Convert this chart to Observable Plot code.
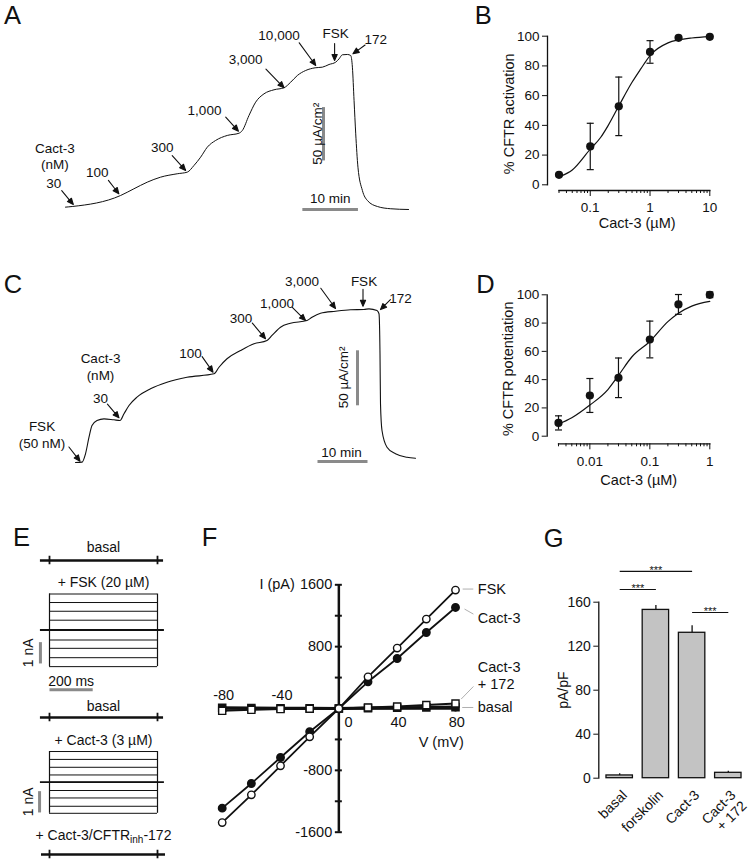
<!DOCTYPE html>
<html><head><meta charset="utf-8">
<script src="https://cdn.jsdelivr.net/npm/d3@7"></script>
<script src="https://cdn.jsdelivr.net/npm/@observablehq/plot@0.6"></script>
<style>
html,body{margin:0;padding:0;background:#fff;}
#root{position:relative;width:750px;height:865px;overflow:hidden;font-family:"Liberation Sans",Arial,Helvetica,sans-serif;color:#111;}
.letter{position:absolute;font-size:25.5px;line-height:1;}
</style></head><body><div id="root"></div>
<script>
// ================= DATA =================
// Panel A – Isc trace (time, min ; current, µA/cm²)
const traceA_t = [0,1.2,9.9,12.3,14.7,17.1,20.1,21.9,23.1,24.3,25.5,27.0,29.1,31.2,31.8,33.0,34.2,35.7,37.5,39.3,40.5,41.7,43.2,44.9,46.2,47.4,48.6,49.2,49.8,50.7,51.3,51.6,51.9,52.2,52.6,53.4,54.3,56.1,58.5,61.7];
const traceA_i = [2.2,2.8,13.1,19.4,25.6,30.3,33.5,35.0,41.2,49.0,58.4,64.7,69.4,71.5,74.0,88.1,100.6,108.4,112.2,114.1,119.3,125.6,130.3,132.8,133.4,135.9,138.1,141.2,145.0,145.3,144.3,133.4,102.0,70.9,39.6,17.8,8.4,2.8,0.7,0];
const labelsA = ["30","100","300","1,000","3,000","10,000","FSK","172"];
// Panel C – Isc trace
const traceC_t = [0,1.3,2.0,2.7,3.3,4.3,5.7,7.7,8.9,9.7,10.7,12.3,15.0,18.3,22.3,27.7,28.7,30.3,33.0,35.7,38.3,39.3,41.0,43.0,46.3,47.3,49.0,52.0,55.0,57.7,58.7,60.3,60.7,60.9,61.0,61.3,62.3,64.0,66.3,68.0];
const traceC_i = [0,0.3,7.9,23.0,33.6,38.2,39.7,38.8,38.2,44.3,51.8,59.4,67.0,73.0,77.5,80.6,86.6,94.3,101.8,107.9,110.9,115.5,123.0,126.6,129.1,132.1,135.7,137.5,138.8,139.1,139.7,138.2,135.2,98.8,53.4,29.1,13.9,7.9,4.8,3.9];
const labelsC = ["FSK\n(50 nM)","30","100","300","1,000","3,000","FSK","172"];
// Panel B – % CFTR activation
const concB = [0.03,0.1,0.3,1,3,10];
const meanB = [6.7,25.8,52.8,89.4,98.9,99.6];
const semB  = [0,15.6,19.7,7.6,0,0];
const fitB_x = [0.033,0.05,0.1,0.15,0.2,0.3,0.5,0.7,1,2,3,5,10];
const fitB_y = [6,10,24,32,40,53,69,78,87,95.5,97.5,98.8,99.7];
const majorB = [0.1,1,10];
const minorB = [0.03,0.04,0.05,0.06,0.07,0.08,0.09,0.2,0.3,0.4,0.5,0.6,0.7,0.8,0.9,2,3,4,5,6,7,8,9];
// Panel D – % CFTR potentiation
const concD = [0.003,0.01,0.03,0.1,0.3,1];
const meanD = [9.4,28.8,41.3,68.4,93.2,100];
const semD  = [5,12,14,13,7,2];
const fitD_x = [0.003,0.005,0.01,0.02,0.03,0.05,0.1,0.2,0.3,0.5,1];
const fitD_y = [8.5,13,22,33,43,56,67,81,87,92,95.3];
const majorD = [0.01,0.1,1];
const minorD = [0.003,0.004,0.005,0.006,0.007,0.008,0.009,0.02,0.03,0.04,0.05,0.06,0.07,0.08,0.09,0.2,0.3,0.4,0.5,0.6,0.7,0.8,0.9];
const pctTicks = [0,20,40,60,80,100];
// Panel E – whole-cell current families (nA), steps -80..+80 mV
const stepsE = [-80,-60,-40,-20,0,20,40,60,80];
const fskE   = [-1.72,-1.30,-0.86,-0.47,0,0.46,0.88,1.29,1.69];
const cactE  = [-1.46,-1.13,-0.74,-0.39,0,0.34,0.70,1.07,1.44];
const pulseE = [0,500];            // ms
const labelsE = ["basal","+ FSK (20 µM)","basal","+ Cact-3 (3 µM)","+ Cact-3/CFTRinh-172"];
// Panel F – I/V (pA vs mV)
const voltF  = [-80,-60,-40,-20,0,20,40,60,80];
const fskF   = [-1475,-1116,-741,-366,0,410,781,1157,1532];
const cactF  = [-1289,-970,-634,-301,0,345,647,983,1307];
const c172F  = [-30,-17,-8,-3,0,13,26,44,65];
const basalF = [10,7,4,2,0,5,10,14,18];
const yTicksF = [-1600,-1200,-800,-400,400,800,1200,1600];
const yLabelsF = [-1600,-800,800,1600];
const xTicksF = [-80,-40,40,80];
// Panel G – current density (pA/pF)
const catsG  = ["basal","forskolin","Cact-3","Cact-3 + 172"];
const namesG = ["basal","forskolin","Cact-3","Cact-3\n+ 172"];
const meanG  = [2.5,153,132.2,4.9];
const semG   = [1.5,4,6.3,1.5];
const yTicksG = [0,40,80,120,160];
const sigG = [{a:0,b:2,y:188,s:"***"},{a:0,b:1,y:171.5,s:"***"},{a:2,b:3,y:150.6,s:"***"}];

// ================= ANNOTATIONS (data units) =================
const arrowsA = [
  {t:1.4,I:4.7,len:18,ang:140,lt:-2.1,lI:24.6},
  {t:9.6,I:14.7,len:17,ang:142,lt:5.7,lI:34.4},
  {t:21.6,I:36.6,len:20,ang:138,lt:17.4,lI:57.5},
  {t:31.1,I:73.4,len:19,ang:138,lt:25.0,lI:92.8},
  {t:39.3,I:114.1,len:26,ang:136,lt:32.4,lI:140.3},
  {t:45.0,I:135.0,len:28,ang:144,lt:38.4,lI:163.1},
  {t:48.4,I:139.6,len:17,ang:180,lt:48.6,lI:164.7},
  {t:51.7,I:145.9,len:15,ang:234,lt:55.8,lI:159.0}
].map((d,i)=>({...d,label:labelsA[i]}));
const arrowsC = [
  {t:0.9,I:1.2,len:18,ang:142,lt:-6.7,lI:25.7},
  {t:8.7,I:40.6,len:18,ang:140,lt:5,lI:58.8},
  {t:27.5,I:82.1,len:19,ang:145,lt:23,lI:100.3},
  {t:38,I:112.5,len:20.5,ang:140,lt:33.1,lI:131.5},
  {t:46,I:129.1,len:19,ang:135,lt:40.3,lI:145.7},
  {t:52,I:140,len:25,ang:144,lt:45.3,lI:165.5},
  {t:57.5,I:142,len:17,ang:180,lt:57.7,lI:165.5},
  {t:61,I:139,len:14,ang:225,lt:65,lI:150.3}
].map((d,i)=>({...d,label:labelsC[i]}));

// ================= HELPERS =================
const W = 750, H = 865;
const FONT = '"Liberation Sans", Arial, Helvetica, sans-serif';
const INK = "#111";
const GRAYBAR = "#8a8a8a";
const root = document.getElementById("root");
function layer(o) {
  const svg = Plot.plot({
    width: W, height: H, marginTop: 0, marginRight: 0, marginBottom: 0, marginLeft: 0,
    ...o,
    x: {axis: null, label: null, ...(o.x || {})},
    y: {axis: null, label: null, ...(o.y || {})},
    length: {type: "identity"},
    style: {background: "none", fontFamily: FONT, fontSize: "13.5px", color: INK,
            position: "absolute", left: "0px", top: "0px", overflow: "visible", maxWidth: "none"}
  });
  root.appendChild(svg);
  return svg;
}
const arrowShape = {draw(ctx, l) {
  const h = 6, w = 2.6;
  ctx.moveTo(0, 0); ctx.lineTo(0, -l + h - 0.5);
  ctx.moveTo(0, -l); ctx.lineTo(-w, -l + h); ctx.lineTo(w, -l + h); ctx.closePath();
}};
const capSymbol = {draw(ctx, size) { const r = Math.sqrt(size / Math.PI); ctx.moveTo(-r, 0); ctx.lineTo(r, 0); }};
const zip = (xs, ys, kx, ky) => xs.map((x, i) => ({[kx]: x, [ky]: ys[i]}));

// ================= PANEL A =================
layer({
  x: {domain: [0, 60], range: [65, 65 + 60 * 5.56]},
  y: {domain: [0, 150], range: [209, 209 - 150 * 1.067]},
  marks: [
    Plot.line(zip(traceA_t, traceA_i, "t", "I"), {x: "t", y: "I", curve: "monotone-x", stroke: INK, strokeWidth: 1}),
    Plot.vector(arrowsA, {x: "t", y: "I", length: "len", rotate: "ang", anchor: "end", shape: arrowShape, stroke: INK, fill: INK, strokeWidth: 1.1}),
    Plot.text(arrowsA, {x: "lt", y: "lI", text: "label", fontSize: 13.5}),
    Plot.text(["Cact-3\n(nM)"], {x: -1.9, y: 50.6, text: d => d, fontSize: 13.5, lineHeight: 1.23}),
    Plot.link([{t1: 46.4, t2: 46.4, i1: 46, i2: 96}, {t1: 42.6, t2: 52.6, i1: 0, i2: 0}], {x1: "t1", x2: "t2", y1: "i1", y2: "i2", stroke: GRAYBAR, strokeWidth: 3}),
    Plot.text(["50 µA/cm²"], {x: 45.3, y: 71, text: d => d, rotate: -90, fontSize: 13.5}),
    Plot.text(["10 min"], {x: 47.6, y: 9.7, text: d => d, fontSize: 13.5})
  ]
});

// ================= PANEL C =================
layer({
  x: {domain: [0, 70], range: [75, 75 + 70 * 5]},
  y: {domain: [0, 150], range: [462, 462 - 150 * 1.1]},
  marks: [
    Plot.line(zip(traceC_t, traceC_i, "t", "I"), {x: "t", y: "I", curve: "monotone-x", stroke: INK, strokeWidth: 1.1}),
    Plot.vector(arrowsC, {x: "t", y: "I", length: "len", rotate: "ang", anchor: "end", shape: arrowShape, stroke: INK, fill: INK, strokeWidth: 1.1}),
    Plot.text(arrowsC, {x: "lt", y: "lI", text: "label", fontSize: 13.5, lineHeight: 1.25}),
    Plot.text(["Cact-3\n(nM)"], {x: 5, y: 87.5, text: d => d, fontSize: 13.5, lineHeight: 1.23}),
    Plot.link([{t1: 56.4, t2: 56.4, i1: 52, i2: 102}, {t1: 48.4, t2: 58.4, i1: 0.9, i2: 0.9}], {x1: "t1", x2: "t2", y1: "i1", y2: "i2", stroke: GRAYBAR, strokeWidth: 3}),
    Plot.text(["50 µA/cm²"], {x: 53.6, y: 77.3, text: d => d, rotate: -90, fontSize: 13.5}),
    Plot.text(["10 min"], {x: 53.2, y: 9.1, text: d => d, fontSize: 13.5})
  ]
});

// ================= PANELS B & D (dose-response) =================
function doseResponse(cfg) {
  const pts = cfg.conc.map((c, i) => ({c, m: cfg.mean[i], e: cfg.sem[i]}));
  const withErr = pts.filter(d => d.e > 0);
  // y axis
  layer({
    marginLeft: cfg.yAxisX, marginTop: cfg.yTop, marginBottom: H - cfg.yBottom,
    y: {domain: [0, 100], axis: undefined},
    marks: [
      Plot.frame({anchor: "left", stroke: INK, strokeWidth: 1.3}),
      Plot.axisY({ticks: pctTicks, tickSize: 5, tickPadding: 3, fontSize: 13.5, label: null, tickFormat: d => String(d)}),
      Plot.text([cfg.yLabel], {frameAnchor: "left", text: d => d, rotate: -90, textAnchor: "middle", lineAnchor: "middle", dx: -38.5, dy: 3.3, fontSize: 14.5})
    ]
  });
  // x axis
  layer({
    marginLeft: cfg.xLeft, marginRight: W - cfg.xRight, marginBottom: H - cfg.xAxisY,
    x: {type: "log", domain: cfg.domain, axis: undefined},
    marks: [
      Plot.frame({anchor: "bottom", stroke: INK, strokeWidth: 1.3}),
      Plot.axisX({ticks: cfg.minor, tickSize: 3, label: null, tickFormat: () => ""}),
      Plot.axisX({ticks: cfg.major, tickSize: 6, tickPadding: cfg.xPad, fontSize: 13.5, label: null, tickFormat: d => String(d)}),
      Plot.text(["Cact-3 (µM)"], {frameAnchor: "bottom", text: d => d, textAnchor: "middle", lineAnchor: "middle", dx: cfg.titleDx, dy: cfg.titleDy, fontSize: 14.5})
    ]
  });
  // data
  layer({
    x: {type: "log", domain: cfg.domain, range: [cfg.xLeft, cfg.xRight]},
    y: {domain: [0, 100], range: [cfg.yBottom, cfg.yTop]},
    marks: [
      Plot.line(zip(cfg.fitX, cfg.fitY, "c", "v"), {x: "c", y: "v", curve: "monotone-x", stroke: INK, strokeWidth: 1.2}),
      Plot.ruleX(withErr, {x: "c", y1: d => d.m - d.e, y2: d => d.m + d.e, stroke: INK, strokeWidth: 1.2}),
      Plot.dot(withErr, {x: "c", y: d => d.m + d.e, symbol: capSymbol, r: 3.5, stroke: INK, fill: "none", strokeWidth: 1.2}),
      Plot.dot(withErr, {x: "c", y: d => d.m - d.e, symbol: capSymbol, r: 3.5, stroke: INK, fill: "none", strokeWidth: 1.2}),
      Plot.dot(pts, {x: "c", y: "m", r: 4.1, fill: INK, stroke: "none"})
    ]
  });
}
doseResponse({conc: concB, mean: meanB, sem: semB, fitX: fitB_x, fitY: fitB_y, domain: [0.03, 10],
  major: majorB, minor: minorB, yAxisX: 547, yTop: 35.7, yBottom: 184.3, xLeft: 558.5, xRight: 709.3, xAxisY: 190,
  xPad: 5.5, titleDx: 2.8, titleDy: 32.7, yLabel: "% CFTR activation"});
doseResponse({conc: concD, mean: meanD, sem: semD, fitX: fitD_x, fitY: fitD_y, domain: [0.003, 1],
  major: majorD, minor: minorD, yAxisX: 546.7, yTop: 294.3, yBottom: 435.7, xLeft: 558, xRight: 709.3, xAxisY: 443.3,
  xPad: 7, titleDx: 4.6, titleDy: 36.7, yLabel: "% CFTR potentiation"});

// ================= PANEL E =================
const eX = {domain: [0, 500], range: [49, 157]};
const eY = z => ({domain: [0, 1], range: [z, z - 21.3]});
const midE = d3.mean(pulseE);
function basalTrace(z, label, dyLabel, t0, t1) {
  return layer({x: eX, y: eY(z), marks: [
    Plot.ruleY([0], {x1: t0, x2: t1, stroke: INK, strokeWidth: 2.4}),
    Plot.ruleX(pulseE, {y1: -0.2, y2: 0.2, stroke: INK, strokeWidth: 1.8}),
    Plot.text([label], {x: midE, y: 0, text: d => d, dy: dyLabel, fontSize: 14})
  ]});
}
function stepFamily(z, levels, label, bar, extra) {
  return layer({x: eX, y: eY(z), marks: [
    Plot.ruleY(levels, {x1: pulseE[0], x2: pulseE[1], stroke: INK, strokeWidth: 1}),
    Plot.ruleX(pulseE, {y1: d3.min(levels), y2: d3.max(levels), stroke: INK, strokeWidth: 1.2}),
    Plot.ruleY([0], {x1: -42, x2: 532, stroke: INK, strokeWidth: 1.8}),
    Plot.text([label], {x: midE, y: d3.max(levels), text: d => d, dy: -11, fontSize: 14}),
    Plot.link([bar], {x1: "t", x2: "t", y1: "i1", y2: "i2", stroke: GRAYBAR, strokeWidth: 3}),
    Plot.text(["1 nA"], {x: -97, y: (bar.i1 + bar.i2) / 2, text: d => d, rotate: -90, fontSize: 14}),
    ...(extra || [])
  ]});
}
basalTrace(560, labelsE[0], -13, -42, 528);
stepFamily(629.5, fskE, labelsE[1], {t: -42, i1: -1.57, i2: -0.57}, [
  Plot.link([{t1: 0, t2: 200, i: -2.81}], {x1: "t1", x2: "t2", y1: "i", y2: "i", stroke: GRAYBAR, strokeWidth: 3}),
  Plot.text(["200 ms"], {x: 100, y: -2.81, text: d => d, dy: -8, fontSize: 14})
]);
basalTrace(717, labelsE[2], -11, -42, 528);
stepFamily(781.7, cactE, labelsE[3], {t: -46, i1: -1.42, i2: -0.42});
const inhSvg = basalTrace(854, labelsE[4], -19, -37, 537);
(function subscript(svg) {
  const NS = "http://www.w3.org/2000/svg";
  svg.querySelectorAll("text").forEach(t => {
    const s = t.textContent, k = s.indexOf("CFTRinh");
    if (k < 0) return;
    const pre = s.slice(0, k + 4), post = s.slice(k + 7);
    t.textContent = "";
    const a = document.createElementNS(NS, "tspan"); a.textContent = pre;
    const b = document.createElementNS(NS, "tspan"); b.textContent = "inh"; b.setAttribute("font-size", "10"); b.setAttribute("dy", "3.5");
    const c = document.createElementNS(NS, "tspan"); c.textContent = post; c.setAttribute("dy", "-3.5");
    t.append(a, b, c);
  });
})(inhSvg);

// ================= PANEL F =================
const fSeries = (arr) => zip(voltF, arr, "v", "i");
layer({
  x: {domain: [-80, 80], range: [221.7, 455]},
  y: {domain: [-1600, 1600], range: [831.7, 584.3]},
  marks: [
    Plot.ruleY([0], {x1: -80, x2: 80, stroke: INK, strokeWidth: 2.5}),
    Plot.ruleX([0], {y1: -1600, y2: 1600, stroke: INK, strokeWidth: 2.5}),
    Plot.ruleY(yTicksF, {x1: -2.4, x2: 2.4, stroke: INK, strokeWidth: 2}),
    Plot.ruleX(xTicksF, {y1: -45, y2: 45, stroke: INK, strokeWidth: 2}),
    Plot.text(yLabelsF, {x: 0, y: d => d, text: d => String(d), textAnchor: "end", dx: -6.6, fontSize: 14.5}),
    Plot.text(["I (pA)"], {x: 0, y: 1600, text: d => d, textAnchor: "end", dx: -44, fontSize: 14.5}),
    Plot.text(xTicksF.filter(v => v < 0), {x: d => d, y: 0, text: d => String(d), dx: 1.5, dy: -12.7, fontSize: 14.5}),
    Plot.text(xTicksF.filter(v => v > 0), {x: d => d, y: 0, text: d => String(d), dx: 1.3, dy: 14, fontSize: 14.5}),
    Plot.text([0], {x: d => d, y: 0, text: d => String(d), dx: 9.7, dy: 14, fontSize: 14.5}),
    Plot.text(["V (mV)"], {x: 70.2, y: -440, text: d => d, fontSize: 14.5}),
    Plot.line(fSeries(basalF), {x: "v", y: "i", stroke: INK, strokeWidth: 3}),
    Plot.line(fSeries(c172F), {x: "v", y: "i", stroke: INK, strokeWidth: 2}),
    Plot.line(fSeries(cactF), {x: "v", y: "i", stroke: INK, strokeWidth: 1.8}),
    Plot.line(fSeries(fskF), {x: "v", y: "i", stroke: INK, strokeWidth: 1.8}),
    Plot.dot(fSeries(basalF), {x: "v", y: "i", symbol: "square", r: 4, fill: INK, stroke: INK}),
    Plot.dot(fSeries(c172F), {x: "v", y: "i", symbol: "square", r: 4, fill: "white", stroke: INK, strokeWidth: 1.4}),
    Plot.dot(fSeries(cactF), {x: "v", y: "i", r: 3.7, fill: INK, stroke: INK}),
    Plot.dot(fSeries(fskF), {x: "v", y: "i", r: 3.7, fill: "white", stroke: INK, strokeWidth: 1.4}),
    Plot.link([
      {x1: 84.9, y1: 1545, x2: 92.2, y2: 1545},
      {x1: 86.2, y1: 1286, x2: 92.3, y2: 1221},
      {x1: 83.9, y1: 122, x2: 92.3, y2: 285},
      {x1: 84.6, y1: 13, x2: 92.2, y2: 13}
    ], {x1: "x1", y1: "y1", x2: "x2", y2: "y2", stroke: "#b0b0b0", strokeWidth: 1}),
    Plot.text([
      {v: 95.3, i: 1545, s: "FSK"}, {v: 95.3, i: 1177, s: "Cact-3"},
      {v: 95.3, i: 431, s: "Cact-3\n+ 172"}, {v: 95.3, i: 22, s: "basal"}
    ], {x: "v", y: "i", text: "s", textAnchor: "start", lineHeight: 1.15, fontSize: 14.5})
  ]
});

// ================= PANEL G =================
const barsG = catsG.map((c, i) => ({c, name: namesG[i], m: meanG[i], e: semG[i]}));
layer({
  marginLeft: 598.3, marginTop: 601.7, marginBottom: H - 777.7,
  x: {type: "band", domain: catsG, range: [596.2, 750.8], padding: 0.27, round: false},
  y: {domain: [0, 160], axis: undefined},
  marks: [
    Plot.frame({anchor: "left", stroke: INK, strokeWidth: 1.3}),
    Plot.axisY({ticks: yTicksG, tickSize: 5, tickPadding: 3, fontSize: 14, label: null, tickFormat: d => String(d)}),
    Plot.text(["pA/pF"], {frameAnchor: "left", text: d => d, rotate: -90, textAnchor: "middle", lineAnchor: "middle", dx: -35, fontSize: 14}),
    Plot.ruleX(barsG, {x: "c", y1: "m", y2: d => d.m + d.e, stroke: INK, strokeWidth: 1.3}),
    Plot.ruleY(barsG, {x: "c", y: d => d.m + d.e, insetLeft: 7, insetRight: 7, stroke: INK, strokeWidth: 1.3}),
    Plot.barY(barsG, {x: "c", y: "m", fill: "#c3c3c3", stroke: INK, strokeWidth: 1.3}),
    Plot.text(barsG, {x: "c", y: 0, text: "name", rotate: -45, textAnchor: "end", lineAnchor: "top", lineHeight: 1.1, dx: 0.5, dy: 10, fontSize: 14})
  ]
});
layer({
  x: {domain: [0, 3], range: [619.2, 727.8]},
  y: {domain: [0, 160], range: [777.7, 601.7]},
  marks: [
    Plot.link(sigG, {x1: "a", x2: "b", y1: "y", y2: "y", stroke: INK, strokeWidth: 1.1}),
    Plot.text(sigG, {x: d => (d.a + d.b) / 2, y: "y", text: "s", lineAnchor: "bottom", dy: 2.2, fontSize: 11})
  ]
});

// ================= PANEL LETTERS =================
[["A", 4, 3.4], ["B", 474.8, 3.4], ["C", 3.7, 272.4], ["D", 476.3, 272.4],
 ["E", 13, 525.1], ["F", 201.8, 525.1], ["G", 543.8, 525.7]].forEach(([s, x, y]) => {
  const d = document.createElement("div");
  d.className = "letter"; d.textContent = s; d.style.left = x + "px"; d.style.top = y + "px";
  root.appendChild(d);
});
</script></body></html>
